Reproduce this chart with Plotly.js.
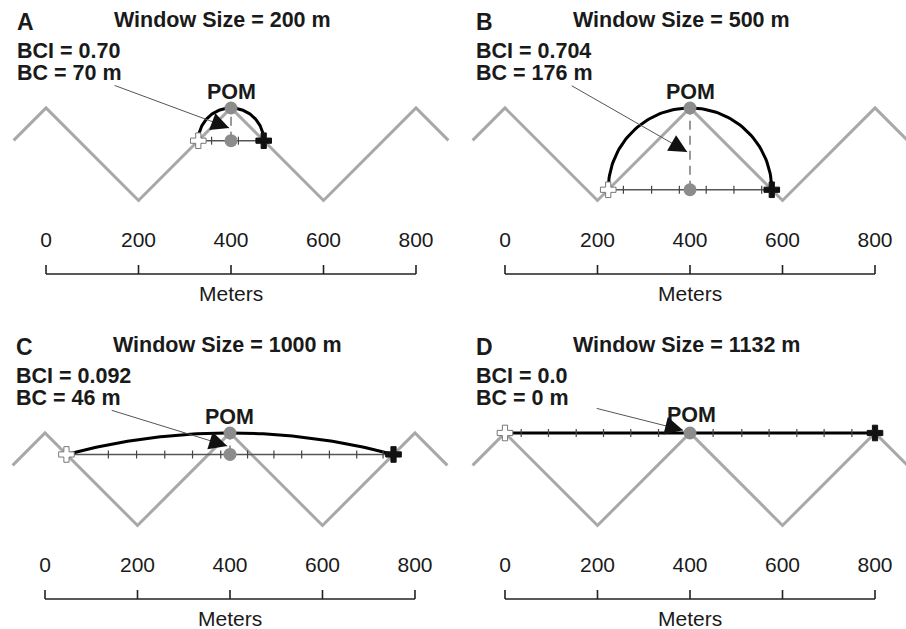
<!DOCTYPE html>
<html><head><meta charset="utf-8">
<script src="https://cdn.plot.ly/plotly-3.0.1.min.js"></script>
<style>html,body{margin:0;padding:0;background:#fff}</style>
</head><body><div id="chart" style="width:906px;height:629px"></div>
<script>
// ---------------- data ----------------
const panelLetters = ['A', 'B', 'C', 'D'];
const windowSizes = [200, 500, 1000, 1132];
const bciLabels = ['0.70', '0.704', '0.092', '0.0'];
const bcLabels = ['70', '176', '46', '0'];
// terrain profile (zigzag), metres
const terrainX = [-70, 0, 200, 400, 600, 800, 870];
const terrainY = [130, 200, 0, 200, 0, 200, 130];
// point of measurement
const pomX = 400;
const pomY = 200;
// window chord end points (metres)
const chordStartX = [329.3, 223.2, 46.4, 0];
const chordEndX = [470.7, 576.8, 753.6, 800];
const chordY = [129.3, 23.2, 153.6, 200];
// tick marks along each chord (metres)
const chordTicks = [
  [358, 416],
  [256, 317, 377, 435, 495, 555],
  [137, 198, 259, 319, 380, 438, 495, 555, 615, 674, 731],
  [35, 94, 154, 213, 272, 332, 393, 450, 512, 571, 631, 690, 750]
];
// scale bar
const scaleTicks = [0, 200, 400, 600, 800];
const scaleLabels = ['0', '200', '400', '600', '800'];
const scaleTitle = 'Meters';

// ---------------- layout helpers (positions, not data) ----------------
const arrowTail = [[145, 250], [141, 250], [141, 250], [195, 254]];
const arrowTip = [[396, 157], [394, 105], [394, 172], [385, 206]];
const xRanges = [[-99.5, 880.0], [-112.4, 867.0], [-97.3, 882.2], [-112.4, 867.0]];
const yRanges = [[-246.5, 433.5], [-246.5, 433.5], [-223.8, 456.2], [-223.8, 456.2]];
const xDomains = [[0, 0.5], [0.5, 1], [0, 0.5], [0.5, 1]];
const yDomains = [[0.5, 1], [0.5, 1], [0, 0.5], [0, 0.5]];
const FONT = 'Liberation Sans, Arial, Helvetica, sans-serif';
const TXT = '#1a1a1a';

const traces = [];
const annotations = [];
const layout = {
  width: 906, height: 629,
  margin: {l: 0, r: 0, t: 0, b: 0},
  paper_bgcolor: '#fff', plot_bgcolor: '#fff',
  showlegend: false,
  font: {family: FONT, color: TXT},
  annotations: annotations
};

for (let i = 0; i < 4; i++) {
  const xa = i === 0 ? 'x' : 'x' + (i + 1);
  const ya = i === 0 ? 'y' : 'y' + (i + 1);
  const xk = i === 0 ? 'xaxis' : 'xaxis' + (i + 1);
  const yk = i === 0 ? 'yaxis' : 'yaxis' + (i + 1);
  layout[xk] = {domain: xDomains[i], range: xRanges[i], visible: false, fixedrange: true, anchor: ya};
  layout[yk] = {domain: yDomains[i], range: yRanges[i], visible: false, fixedrange: true, anchor: xa};
  const ax = {xaxis: xa, yaxis: ya, hoverinfo: 'skip', cliponaxis: false};

  // terrain
  traces.push(Object.assign({type: 'scatter', mode: 'lines', x: terrainX, y: terrainY,
    line: {color: '#a8a8a8', width: 3}}, ax));

  // BC dashed vertical
  if (pomY - chordY[i] > 0) {
    traces.push(Object.assign({type: 'scatter', mode: 'lines', x: [pomX, pomX], y: [chordY[i], pomY],
      line: {color: '#555', width: 1.2, dash: '9px,6px'}}, ax));
  }

  // chord line
  traces.push(Object.assign({type: 'scatter', mode: 'lines',
    x: [chordStartX[i], chordEndX[i]], y: [chordY[i], chordY[i]],
    line: {color: '#555', width: 1.5}}, ax));

  // arc through chord end points and POM (circle through three points)
  const c = (chordEndX[i] - chordStartX[i]) / 2;
  const cx = (chordEndX[i] + chordStartX[i]) / 2;
  const s = pomY - chordY[i];
  const arcX = [], arcY = [];
  if (s > 0) {
    const R = (c * c + s * s) / (2 * s);
    const cy = pomY - R;
    const th = Math.asin(Math.min(1, c / R));
    const a0 = Math.PI / 2 + th, a1 = Math.PI / 2 - th;
    const n = 90;
    for (let j = 0; j <= n; j++) {
      const a = a0 + (a1 - a0) * j / n;
      arcX.push(cx + R * Math.cos(a));
      arcY.push(cy + R * Math.sin(a));
    }
  } else {
    arcX.push(chordStartX[i], chordEndX[i]);
    arcY.push(chordY[i], chordY[i]);
  }
  traces.push(Object.assign({type: 'scatter', mode: 'lines', x: arcX, y: arcY,
    line: {color: '#000', width: 3}}, ax));

  // chord ticks
  const tx = [], ty = [];
  chordTicks[i].forEach(t => { tx.push(t, t, null); ty.push(chordY[i] - 8.6, chordY[i] + 8.6, null); });
  traces.push(Object.assign({type: 'scatter', mode: 'lines', x: tx, y: ty,
    line: {color: '#444', width: 1.2}}, ax));

  // POM and chord midpoint circles
  traces.push(Object.assign({type: 'scatter', mode: 'markers',
    x: s > 0 ? [cx, pomX] : [pomX], y: s > 0 ? [chordY[i], pomY] : [pomY],
    marker: {color: '#8c8c8c', size: 13, line: {width: 0}}}, ax));

  // start / end crosses
  traces.push(Object.assign({type: 'scatter', mode: 'markers', x: [chordStartX[i]], y: [chordY[i]],
    marker: {symbol: 'cross', color: '#fff', size: 13, line: {color: '#777', width: 1}}}, ax));
  traces.push(Object.assign({type: 'scatter', mode: 'markers', x: [chordEndX[i]], y: [chordY[i]],
    marker: {symbol: 'cross', color: '#111', size: 13, line: {color: '#111', width: 1}}}, ax));

  // scale bar
  const sx = [scaleTicks[0], scaleTicks[scaleTicks.length - 1], null];
  const sy = [-159, -159, null];
  scaleTicks.forEach(t => { sx.push(t, t, null); sy.push(-159, -139.5, null); });
  traces.push(Object.assign({type: 'scatter', mode: 'lines', x: sx, y: sy,
    line: {color: '#222', width: 1.6}}, ax));
  traces.push(Object.assign({type: 'scatter', mode: 'text', x: scaleTicks, y: scaleTicks.map(() => -89.7),
    text: scaleLabels, textposition: 'middle center',
    textfont: {family: FONT, size: 21, color: TXT}}, ax));

  // text annotations
  const bold = {family: FONT, size: 21.5, color: TXT, weight: 'bold'};
  const base = {xref: xa, yref: ya, showarrow: false, font: bold};
  annotations.push(Object.assign({}, base, {x: 400, y: -202, text: scaleTitle,
    font: {family: FONT, size: 21, color: TXT}}));
  annotations.push(Object.assign({}, base, {x: -67, y: 385, xanchor: 'left', text: panelLetters[i],
    font: {family: FONT, size: 23, color: TXT, weight: 'bold'}}));
  annotations.push(Object.assign({}, base, {x: 143, y: 390, xanchor: 'left',
    text: 'Window Size = ' + windowSizes[i] + ' m'}));
  annotations.push(Object.assign({}, base, {x: -66, y: 323, xanchor: 'left', text: 'BCI = ' + bciLabels[i]}));
  annotations.push(Object.assign({}, base, {x: -66, y: 276, xanchor: 'left', text: 'BC = ' + bcLabels[i] + ' m'}));
  annotations.push(Object.assign({}, base, {x: pomX + (i === 3 ? 4 : 0), y: i === 3 ? 239 : 234, text: 'POM'}));
  // leader line (thin grey)
  annotations.push({xref: xa, yref: ya, axref: xa, ayref: ya,
    x: arrowTip[i][0], y: arrowTip[i][1], ax: arrowTail[i][0], ay: arrowTail[i][1],
    text: '', showarrow: true, arrowhead: 0, arrowwidth: 1, arrowcolor: '#555', standoff: 0});
  // black arrow head
  const hx = arrowTip[i][0] - 0.1 * (arrowTip[i][0] - arrowTail[i][0]);
  const hy = arrowTip[i][1] - 0.1 * (arrowTip[i][1] - arrowTail[i][1]);
  annotations.push({xref: xa, yref: ya, axref: xa, ayref: ya,
    x: arrowTip[i][0], y: arrowTip[i][1], ax: hx, ay: hy,
    text: '', showarrow: true, arrowhead: 2, arrowsize: 3.6, arrowwidth: 1, arrowcolor: '#111', standoff: 0});
}

Plotly.newPlot('chart', traces, layout, {staticPlot: true, displayModeBar: false});
</script>
</body></html>
